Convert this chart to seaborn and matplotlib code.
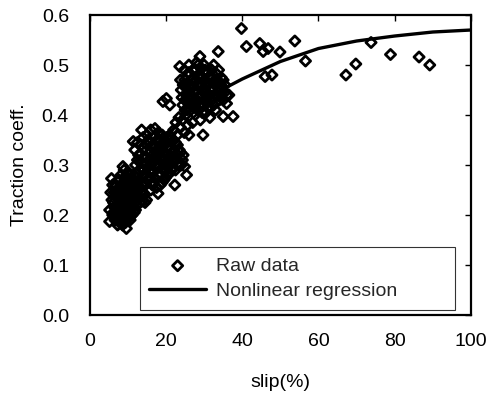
import matplotlib
matplotlib.use("Agg")
import matplotlib.pyplot as plt
import seaborn as sns
import pandas as pd

sns.set_theme(style="white")
plt.rcParams['font.family'] = ['Liberation Sans', 'DejaVu Sans']

# Raw data: low-slip cluster, mid cluster, bridge, upper cluster, sparse high-slip points
raw_x = [
    # cluster around 9 %
    5.2, 5.2, 5.7, 6.0, 6.2, 6.4, 6.6, 6.8, 7.0, 7.1, 7.3, 7.4, 7.6, 7.7, 7.9, 8.0, 8.1, 8.3, 8.4, 8.5,
    8.7, 8.7, 8.8, 9.0, 9.1, 9.2, 9.3, 9.4, 9.6, 9.6, 9.7, 9.8, 10.0, 10.1, 10.2, 10.3, 10.5, 10.6,
    10.8, 10.9, 11.0, 11.2, 11.4, 11.5, 11.7, 11.9, 12.1, 12.3, 12.6, 12.9, 13.3, 13.8, 14.3, 14.9,
    7.5, 8.9, 9.9, 10.4, 11.1, 6.9,
    7.2, 7.8, 8.2, 8.6, 9.0, 9.5, 9.8, 10.3, 10.7, 11.2, 8.0, 8.5, 9.2, 9.9, 10.6, 11.6, 12.2, 7.7,
    8.9, 10.1, 6.5, 12.5, 9.4, 11.0, 8.3,
    5.8, 6.2, 6.6, 7.0, 7.4, 7.8, 8.2, 8.6, 9.0, 9.6, 10.0, 10.4, 10.8, 11.4, 11.8, 12.4, 12.8, 13.2,
    13.6, 14.0, 14.5, 6.0, 7.0, 12.0, 13.0, 5.5, 6.8, 11.3, 9.3, 10.2,
    # cluster around 18 %
    11.4, 12.0, 12.4, 12.8, 13.2, 13.6, 13.7, 14.0, 14.3, 14.6, 14.9, 15.2, 15.4, 15.6, 15.9, 16.2,
    16.4, 16.6, 16.8, 17.1, 17.1, 17.4, 17.6, 17.9, 17.9, 18.2, 18.4, 18.6, 18.8, 19.0, 19.2, 19.4,
    19.7, 19.9, 20.2, 20.4, 20.7, 20.9, 21.2, 21.5, 21.8, 22.1, 22.3, 22.6, 23.0, 23.4, 23.8, 24.3,
    24.9, 25.4, 16.0, 18.0, 19.5, 15.0, 21.0, 13.0,
    15.5, 16.0, 16.5, 17.0, 17.5, 18.0, 18.5, 19.0, 19.5, 20.0, 20.5, 21.0, 17.3, 18.7, 16.3, 19.8,
    15.8, 20.8, 14.5, 17.8, 19.2, 21.5, 22.5, 16.8, 18.3,
    11.8, 12.5, 13.0, 13.5, 14.0, 14.5, 15.0, 15.5, 16.0, 16.5, 17.0, 17.5, 18.0, 18.5, 19.0, 19.5,
    20.0, 20.5, 21.0, 21.5, 22.0, 22.5, 23.0, 23.5, 24.0, 24.5, 12.5, 14.0, 22.0, 20.0,
    # bridge
    22.0, 22.6, 23.0, 23.4, 23.8, 24.3, 24.8, 25.2, 25.7, 26.0,
    # cluster around 30 %
    19.2, 20.1, 21.0, 23.6, 24.0, 24.4, 24.9, 25.3, 25.6, 26.0, 26.2, 26.6, 26.9, 27.2, 27.4, 27.8,
    28.0, 28.4, 28.4, 28.9, 28.9, 29.2, 29.5, 29.8, 30.0, 30.3, 30.6, 30.9, 31.2, 31.4, 31.8, 32.1,
    32.4, 32.8, 33.2, 33.5, 33.7, 34.0, 34.4, 35.0, 35.0, 35.4, 35.9, 36.5, 37.6, 29.7, 27.0, 31.5,
    33.0, 29.0, 30.5, 27.6, 28.6, 32.5,
    25.8, 26.4, 27.0, 27.5, 28.0, 28.5, 29.0, 29.5, 30.0, 30.5, 31.0, 31.5, 32.0, 32.8, 27.8, 29.3,
    30.8, 26.8, 28.8, 31.8, 33.5, 25.0, 24.5, 26.5, 30.2,
    23.8, 24.2, 24.8, 25.2, 25.6, 26.0, 26.5, 27.0, 27.5, 28.0, 28.5, 29.0, 29.5, 30.0, 30.5, 31.0,
    31.5, 32.0, 32.5, 33.0, 33.5, 34.0, 34.5, 35.0, 35.5, 36.0, 26.0, 33.8, 25.0, 34.5,
    # sparse high-slip points
    39.8, 41.1, 44.6, 45.5, 46.8, 49.9, 46.0, 47.8, 53.8, 56.6, 67.2, 69.8, 73.8, 78.9, 86.4, 89.2,
]
raw_y = [
    0.210, 0.187, 0.273, 0.200, 0.225, 0.245, 0.190, 0.260, 0.215, 0.235, 0.180, 0.250, 0.205, 0.270,
    0.225, 0.190, 0.245, 0.212, 0.262, 0.232, 0.297, 0.198, 0.250, 0.222, 0.275, 0.240, 0.185, 0.258,
    0.173, 0.210, 0.232, 0.268, 0.245, 0.200, 0.285, 0.225, 0.255, 0.190, 0.238, 0.270, 0.215, 0.250,
    0.230, 0.280, 0.205, 0.262, 0.240, 0.220, 0.255, 0.235, 0.245, 0.228, 0.240, 0.230,
    0.232, 0.210, 0.255, 0.265, 0.200, 0.245,
    0.200, 0.240, 0.225, 0.215, 0.250, 0.235, 0.220, 0.245, 0.225, 0.235, 0.255, 0.200, 0.205, 0.275,
    0.260, 0.245, 0.260, 0.220, 0.265, 0.210, 0.215, 0.240, 0.225, 0.265, 0.235,
    0.230, 0.205, 0.255, 0.195, 0.270, 0.185, 0.280, 0.180, 0.290, 0.190, 0.230, 0.280, 0.205, 0.260,
    0.225, 0.275, 0.250, 0.225, 0.260, 0.245, 0.225, 0.260, 0.250, 0.210, 0.270, 0.245, 0.230, 0.240,
    0.270, 0.195,
    0.347, 0.300, 0.285, 0.320, 0.270, 0.370, 0.305, 0.290, 0.335, 0.265, 0.315, 0.295, 0.350, 0.275,
    0.325, 0.305, 0.260, 0.340, 0.288, 0.373, 0.318, 0.272, 0.350, 0.243, 0.300, 0.330, 0.282, 0.360,
    0.310, 0.265, 0.345, 0.295, 0.325, 0.275, 0.355, 0.305, 0.335, 0.285, 0.315, 0.345, 0.295, 0.330,
    0.260, 0.310, 0.340, 0.300, 0.325, 0.310, 0.297, 0.280, 0.250, 0.320, 0.310, 0.340, 0.360, 0.255,
    0.310, 0.290, 0.320, 0.300, 0.330, 0.295, 0.315, 0.330, 0.290, 0.320, 0.310, 0.330, 0.310, 0.340,
    0.335, 0.300, 0.285, 0.300, 0.300, 0.280, 0.315, 0.325, 0.345, 0.355, 0.350,
    0.330, 0.345, 0.290, 0.340, 0.355, 0.280, 0.360, 0.270, 0.370, 0.265, 0.340, 0.255, 0.365, 0.260,
    0.360, 0.270, 0.345, 0.280, 0.350, 0.290, 0.350, 0.290, 0.320, 0.330, 0.300, 0.320, 0.310, 0.315,
    0.315, 0.290,
    0.370, 0.385, 0.360, 0.395, 0.375, 0.390, 0.365, 0.400, 0.380, 0.360,
    0.427, 0.433, 0.420, 0.497, 0.450, 0.420, 0.470, 0.440, 0.410, 0.485, 0.455, 0.430, 0.470, 0.405,
    0.445, 0.490, 0.425, 0.500, 0.460, 0.517, 0.440, 0.415, 0.475, 0.450, 0.430, 0.490, 0.460, 0.440,
    0.415, 0.475, 0.450, 0.430, 0.465, 0.440, 0.483, 0.455, 0.527, 0.430, 0.460, 0.470, 0.397, 0.445,
    0.423, 0.440, 0.397, 0.360, 0.385, 0.395, 0.410, 0.390, 0.405, 0.465, 0.480, 0.500,
    0.450, 0.440, 0.455, 0.430, 0.450, 0.435, 0.460, 0.440, 0.455, 0.445, 0.460, 0.440, 0.455, 0.470,
    0.470, 0.425, 0.425, 0.420, 0.475, 0.475, 0.440, 0.430, 0.460, 0.470, 0.470,
    0.470, 0.435, 0.490, 0.455, 0.425, 0.500, 0.410, 0.490, 0.415, 0.505, 0.410, 0.495, 0.405, 0.500,
    0.430, 0.485, 0.415, 0.490, 0.420, 0.460, 0.470, 0.450, 0.440, 0.430, 0.460, 0.440, 0.435, 0.490,
    0.410, 0.475,
    0.573, 0.537, 0.543, 0.527, 0.533, 0.526, 0.477, 0.480, 0.548, 0.508, 0.480, 0.502, 0.545, 0.521,
    0.516, 0.500,
]

# Nonlinear regression curve
fit_x = [7, 10, 15, 20, 25, 30, 35, 40, 50, 60, 70, 80, 90, 100]
fit_y = [0.19, 0.235, 0.30, 0.355, 0.40, 0.43, 0.452, 0.472, 0.507, 0.533, 0.548, 0.558, 0.566, 0.570]

raw = pd.DataFrame({"slip": raw_x, "mu": raw_y})
fit = pd.DataFrame({"slip": fit_x, "mu": fit_y})

fig = plt.figure(figsize=(4.88, 3.95), dpi=100)
ax = fig.add_axes([0.184, 0.2025, 0.781, 0.7595])

sns.lineplot(data=fit, x="slip", y="mu", ax=ax, color="black", linewidth=2.4,
             label="Nonlinear regression", zorder=2)
sns.scatterplot(data=raw, x="slip", y="mu", ax=ax, marker="D", s=27,
                facecolor="none", edgecolor="black", linewidth=2.0,
                label="Raw data", zorder=3)

ax.set_xlim(0, 100)
ax.set_ylim(0, 0.6)
ax.set_xticks([0, 20, 40, 60, 80, 100])
ax.set_yticks([0.0, 0.1, 0.2, 0.3, 0.4, 0.5, 0.6])
ax.set_yticklabels(["0.0", "0.1", "0.2", "0.3", "0.4", "0.5", "0.6"])
ax.tick_params(direction="in", length=4, width=1, top=True, right=True,
               labelsize=14, colors="black")
ax.tick_params(axis="y", pad=15)
ax.tick_params(axis="x", pad=13)
for sp in ax.spines.values():
    sp.set_color("black")
    sp.set_linewidth(1.6)

ax.set_xlabel("slip(%)", fontsize=14, color="black", labelpad=17)
ax.set_ylabel("Traction coeff.", fontsize=14, color="black", labelpad=10)

handles, labels = ax.get_legend_handles_labels()
order = [labels.index("Raw data"), labels.index("Nonlinear regression")]
leg = ax.legend([handles[i] for i in order], [labels[i] for i in order],
                loc="lower left", bbox_to_anchor=(0.131, 0.017, 0.827, 0.235),
                mode="expand", fontsize=14, frameon=True, fancybox=False,
                handlelength=2.9, handletextpad=0.5, borderaxespad=0,
                borderpad=0.5, labelspacing=0.4)
leg.get_frame().set_edgecolor("black")
leg.get_frame().set_linewidth(0.8)

fig.savefig("out.png", dpi=100)
